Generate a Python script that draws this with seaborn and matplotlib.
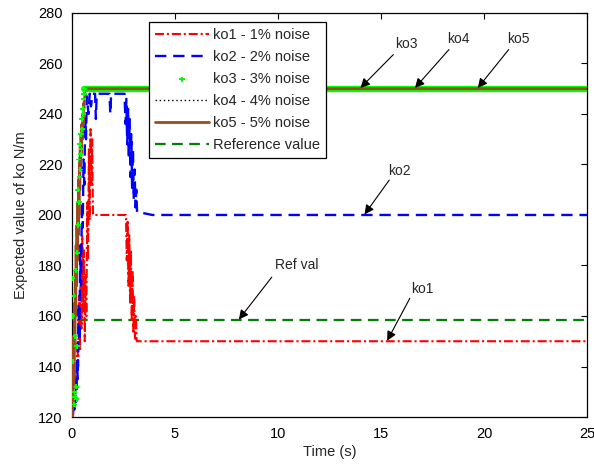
import numpy as np
import pandas as pd
import matplotlib
matplotlib.use("Agg")
import matplotlib.pyplot as plt
import seaborn as sns

# ---- estimated stiffness ko (N/m) versus time (s) for five noise levels ----
t_ko1 = [0.05, 0.10, 0.14, 0.18, 0.22, 0.26, 0.30, 0.34, 0.38, 0.42, 0.46, 0.50,
         0.54, 0.58, 0.62, 0.66, 0.70, 0.74, 0.78, 0.82, 0.86, 0.90, 0.94, 0.98,
         1.02, 2.62, 2.66, 2.70, 2.74, 2.78, 2.82, 2.86, 2.90, 2.94, 2.98, 3.02,
         3.06, 3.10, 3.14, 3.20, 25.0]
ko1 = [121, 128, 124, 138, 131, 150, 140, 168, 146, 180, 155, 192,
       162, 186, 150, 176, 160, 205, 182, 226, 198, 234, 212, 230,
       200, 200, 182, 198, 172, 192, 165, 186, 158, 178, 153, 168,
       151, 160, 150, 150, 150]

t_ko2 = [0.04, 0.08, 0.12, 0.16, 0.20, 0.24, 0.28, 0.32, 0.36, 0.40, 0.44, 0.48,
         0.52, 0.56, 0.60, 0.64, 0.68, 0.72, 0.80, 0.86, 0.92, 1.00, 1.12, 1.16,
         1.20, 1.82, 1.86, 1.90, 2.55, 2.60, 2.64, 2.68, 2.72, 2.76, 2.80, 2.84,
         2.88, 2.92, 2.96, 3.00, 3.04, 3.08, 3.12, 3.16, 3.30, 3.90, 25.0]
ko2 = [120, 127, 123, 131, 126, 142, 135, 165, 150, 188, 172, 205,
       195, 222, 212, 238, 230, 247, 240, 248, 243, 248, 248, 238,
       248, 248, 240, 248, 248, 236, 246, 228, 242, 222, 238, 215,
       232, 210, 226, 206, 218, 203, 210, 201, 201, 200, 200]

t_ko3 = [0.02, 0.04, 0.06, 0.08, 0.10, 0.12, 0.14, 0.16, 0.18, 0.20, 0.22, 0.24,
         0.26, 0.28, 0.30, 0.32, 0.34, 0.36, 0.38, 0.40, 0.42, 0.44, 0.46, 0.48,
         0.50, 0.52, 0.54, 0.56, 0.58, 0.60]
ko3 = [175, 160, 142, 168, 125, 130, 128, 152, 178, 132, 127, 148,
       185, 210, 196, 222, 205, 215, 228, 218, 224, 232, 226, 238,
       234, 242, 240, 246, 248, 250]
t_ko3_steady = [0.60, 25.0]
ko3_steady = [250, 250]

t_ko4 = [0.05, 0.10, 0.15, 0.20, 0.25, 0.30, 0.35, 0.40, 0.45, 0.50, 0.55, 0.60,
         0.65, 25.0]
ko4 = [122, 140, 155, 170, 188, 200, 214, 224, 230, 236, 241, 246, 250, 250]

t_ko5 = [0.02, 0.04, 0.06, 0.08, 0.10, 0.12, 0.14, 0.16, 0.18, 0.20, 0.22, 0.24,
         0.26, 0.28, 0.30, 0.32, 0.34, 0.36, 0.38, 0.40, 0.42, 0.44, 0.46, 0.48,
         0.50, 0.52, 0.54, 0.56, 0.58, 0.60, 0.62, 0.66, 25.0]
ko5 = [120, 138, 125, 152, 136, 165, 148, 178, 160, 188, 172, 196,
       182, 205, 192, 214, 200, 222, 210, 228, 218, 232, 224, 236,
       230, 240, 236, 244, 242, 247, 249, 250, 250]

t_ref = [0.25, 25.0]
ko_ref = [158.4, 158.4]

labels = ["ko1 - 1% noise", "ko2 - 2% noise", "ko3 - 3% noise",
          "ko4 - 4% noise", "ko5 - 5% noise", "Reference value"]

# ---- figure ----
sns.set_theme(style="white")
plt.rcParams["font.family"] = ["Liberation Sans", "DejaVu Sans"]

fig = plt.figure(figsize=(5.94, 4.65), dpi=100)
ax = fig.add_axes([0.1212, 0.1032, 0.867, 0.869])


def draw(t, v, color, lw, dashes=None, z=2):
    sns.lineplot(x=t, y=v, ax=ax, color=color, lw=lw, estimator=None,
                 sort=False, legend=False)
    ln = ax.lines[-1]
    if dashes is not None:
        ln.set_dashes(dashes)
    ln.set_zorder(z)
    return ln


h_ref = draw(t_ref, ko_ref, "#008000", 1.6, dashes=(4.8, 2.9), z=2)
h1 = draw(t_ko1, ko1, "#ff0000", 1.5, dashes=(4.3, 1.4, 1.0, 1.4), z=3)
h2 = draw(t_ko2, ko2, "#0000ff", 1.7, dashes=(4.8, 2.9), z=4)
draw(t_ko3_steady, ko3_steady, "#00ff00", 4.5, z=5)
h4 = draw(t_ko4, ko4, "#000000", 1.0, dashes=(1, 2), z=5.5)
h5 = draw(t_ko5, ko5, "#9c4a1e", 2.0, z=6)
sns.scatterplot(x=t_ko3, y=ko3, ax=ax, color="#00ff00", marker="P", s=14,
                edgecolor="none", legend=False, zorder=6.5)
h3 = ax.collections[-1]

ax.set_xlim(0, 25)
ax.set_ylim(120, 280)
ax.set_xticks([0, 5, 10, 15, 20, 25])
ax.set_yticks(np.arange(120, 281, 20))
ax.tick_params(direction="in", top=True, right=True, length=4, width=0.8,
               labelsize=10.5, colors="black", pad=7)
for s in ax.spines.values():
    s.set_color("black")
    s.set_linewidth(0.9)

ax.set_xlabel("Time (s)", fontsize=10.5, labelpad=3)
ax.set_ylabel("Expected value of ko N/m", fontsize=10.5, labelpad=7)

leg = ax.legend([h1, h2, h3, h4, h5, h_ref], labels, loc="upper left",
                bbox_to_anchor=(0.150, 0.978), fontsize=10.5, frameon=True,
                fancybox=False, edgecolor="black", framealpha=1,
                handlelength=3.7, handletextpad=0.3, labelspacing=0.56,
                borderpad=0.4, borderaxespad=0, scatterpoints=1)
leg.get_frame().set_linewidth(0.9)
leg.set_zorder(10)

# ---- arrow annotations ----
arrow_kw = dict(arrowstyle="-|>", color="black", lw=0.8, mutation_scale=14,
                shrinkA=0, shrinkB=0)
notes = [
    ("ko3", (16.25, 267.7), (15.6, 263.5), (14.0, 250.3)),
    ("ko4", (18.75, 269.5), (18.3, 265.5), (16.65, 250.3)),
    ("ko5", (21.65, 269.5), (21.2, 265.5), (19.7, 250.3)),
    ("ko2", (15.9, 217.5), (15.4, 213.8), (14.2, 200.2)),
    ("ko1", (17.0, 170.5), (16.4, 167.0), (15.3, 150.2)),
    ("Ref val", (10.9, 180.0), (9.7, 175.4), (8.1, 158.6)),
]
for txt, tpos, tail, head in notes:
    ax.annotate("", xy=head, xytext=tail, arrowprops=arrow_kw, zorder=9)
    ax.text(*tpos, txt, fontsize=10, ha="center", va="center", zorder=9)

fig.savefig("out.png", dpi=100)
